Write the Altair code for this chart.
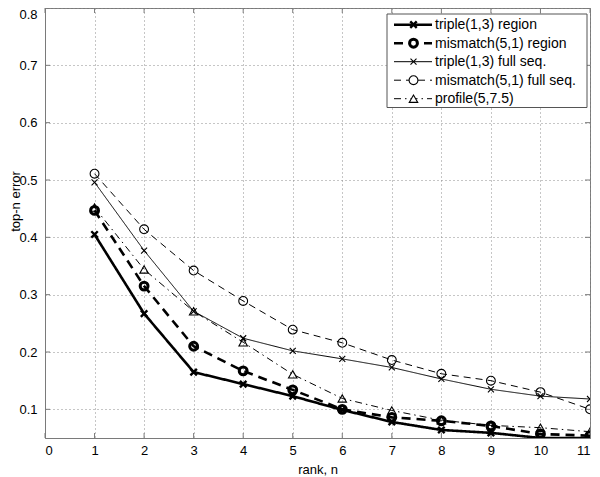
import altair as alt
import pandas as pd

# ---- data ----
ranks = [1, 2, 3, 4, 5, 6, 7, 8, 9, 10, 11]
series_names = [
    "triple(1,3) region",
    "mismatch(5,1) region",
    "triple(1,3) full seq.",
    "mismatch(5,1) full seq.",
    "profile(5,7.5)",
]
triple_region = [0.405, 0.267, 0.165, 0.144, 0.123, 0.099, 0.078, 0.064, 0.059, 0.050, 0.050]
mismatch_region = [0.447, 0.315, 0.210, 0.167, 0.134, 0.100, 0.086, 0.080, 0.071, 0.057, 0.054]
triple_full = [0.496, 0.377, 0.271, 0.224, 0.202, 0.188, 0.173, 0.153, 0.135, 0.123, 0.118]
mismatch_full = [0.511, 0.414, 0.342, 0.289, 0.239, 0.216, 0.186, 0.162, 0.150, 0.130, 0.100]
profile = [0.452, 0.344, 0.271, 0.217, 0.161, 0.119, 0.098, 0.081, 0.072, 0.068, 0.061]
x_ticks = list(range(0, 12))
y_ticks = [0.1, 0.2, 0.3, 0.4, 0.5, 0.6, 0.7, 0.8]

values = [triple_region, mismatch_region, triple_full, mismatch_full, profile]

# ---- layout / style ----
W, H = 545, 430
FONT = "Liberation Sans"
FRAME = "#7a7a7a"
X_PATH = "M-1,-1L1,1M1,-1L-1,1"

styles = [
    dict(dash=[1, 0], lw=2.6, shape=X_PATH, size=42, mw=2.4),
    dict(dash=[9, 6], lw=2.6, shape="circle", size=62, mw=3.0),
    dict(dash=[1, 0], lw=1.0, shape=X_PATH, size=36, mw=1.1),
    dict(dash=[7, 5], lw=1.0, shape="circle", size=78, mw=1.1),
    dict(dash=[7, 4, 1.5, 4], lw=1.0, shape="triangle-up", size=72, mw=1.1),
]

xscale = alt.Scale(domain=[0, 11], nice=False, zero=False)
yscale = alt.Scale(domain=[0.05, 0.8], nice=False, zero=False)

x_axis = alt.Axis(
    values=x_ticks, title="rank, n", format="d", grid=True,
    labelPadding=6, titlePadding=6, labelFlush=1,
)
y_axis = alt.Axis(
    values=y_ticks, title="top-n error", format=".1f", grid=True,
    labelPadding=8, labelFlush=1, titleX=-30, titleY=193, titleAngle=-90,
    titleAlign="center", titleBaseline="middle",
)

layers = []

# inward tick marks on all four sides
xt = pd.DataFrame({"t": x_ticks})
yt = pd.DataFrame({"t": y_ticks})
for y0, y1 in [(H, H - 5), (0, 5)]:
    layers.append(
        alt.Chart(xt).mark_rule(color=FRAME, strokeWidth=1).encode(
            x=alt.X("t:Q", scale=xscale, axis=x_axis),
            y=alt.value(y0), y2=alt.value(y1),
        )
    )
for x0, x1 in [(0, 5), (W, W - 5)]:
    layers.append(
        alt.Chart(yt).mark_rule(color=FRAME, strokeWidth=1).encode(
            y=alt.Y("t:Q", scale=yscale, axis=y_axis),
            x=alt.value(x0), x2=alt.value(x1),
        )
    )

for name, vals, st in zip(series_names, values, styles):
    df = pd.DataFrame({"rank": ranks, "value": vals})
    enc = dict(
        x=alt.X("rank:Q", scale=xscale, axis=x_axis),
        y=alt.Y("value:Q", scale=yscale, axis=y_axis),
    )
    layers.append(
        alt.Chart(df).mark_line(
            color="black", strokeWidth=st["lw"], strokeDash=st["dash"], clip=True
        ).encode(**enc)
    )
    layers.append(
        alt.Chart(df).mark_point(
            shape=st["shape"], size=st["size"], filled=False, color="black",
            strokeWidth=st["mw"], opacity=1, clip=True,
        ).encode(**enc)
    )

# ---- legend box (pixel positions inside the plot area) ----
one = pd.DataFrame({"k": [0]})
LX0, LX1, LY0, LY1 = 342, 542, 6, 99.5
layers.append(
    alt.Chart(one).mark_rect(fill="white", stroke="#555555", strokeWidth=1).encode(
        x=alt.value(LX0), x2=alt.value(LX1), y=alt.value(LY0), y2=alt.value(LY1)
    )
)
for i, (name, st) in enumerate(zip(series_names, styles)):
    ry = 16.7 + 18.5 * i
    layers.append(
        alt.Chart(one).mark_rule(
            color="black", strokeWidth=st["lw"], strokeDash=st["dash"]
        ).encode(x=alt.value(349), x2=alt.value(387), y=alt.value(ry))
    )
    layers.append(
        alt.Chart(one).mark_point(
            shape=st["shape"], size=st["size"], filled=False, color="black",
            strokeWidth=st["mw"], opacity=1, fill="white",
        ).encode(x=alt.value(368.5), y=alt.value(ry))
    )
    layers.append(
        alt.Chart(one).mark_text(
            text=name, align="left", baseline="middle", font=FONT,
            fontSize=14, fontWeight="normal", color="black",
        ).encode(x=alt.value(390), y=alt.value(ry + 0.5))
    )

chart = (
    alt.layer(*layers)
    .properties(
        width=W, height=H,
        autosize=alt.AutoSizeParams(type="none"),
        padding={"left": 37, "top": 0, "right": 2, "bottom": 39},
        background="white",
    )
    .configure_view(stroke=FRAME, strokeWidth=1)
    .configure_axis(
        domainColor=FRAME, domainWidth=1, ticks=False, tickSize=0,
        gridColor="#8c8c8c", gridDash=[1, 3], gridWidth=1, gridOpacity=1,
        labelFont=FONT, labelFontSize=13, labelColor="black",
        titleFont=FONT, titleFontSize=13, titleColor="black",
        titleFontWeight="normal",
    )
)

chart.save("out.html", embed_options={"renderer": "svg", "actions": False})
